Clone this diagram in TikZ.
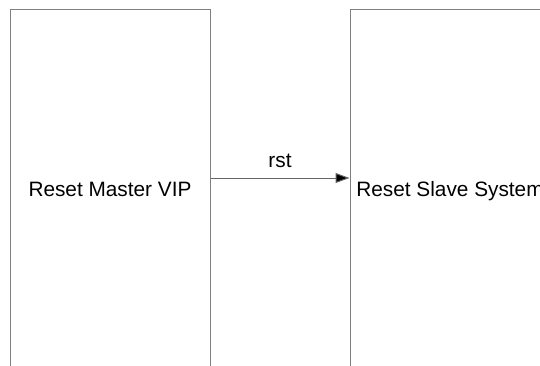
\documentclass[tikz,border=0pt]{standalone}
\usepackage{fontspec}
\setmainfont{Liberation Sans}
\usetikzlibrary{arrows.meta}
\tikzset{
  block/.style={draw=black!50, line width=1pt, minimum width=200pt, minimum height=358pt,
    inner sep=0pt, font=\fontsize{20.8}{24}\selectfont, text depth=0pt},
  signal/.style={draw=black!60, line width=1pt, -{Triangle[length=14pt,width=10pt,fill=black]}},
  siglabel/.style={font=\fontsize{20.8}{24}\selectfont, inner sep=0pt}
}
\begin{document}
\begin{tikzpicture}[x=1pt, y=-1pt]
  \useasboundingbox (0,0) rectangle (540,366);
  \clip (0,0) rectangle (540,366);
  \node[block] (master) at (110,189) {Reset Master VIP};
  \node[block] (slave) at (450,189) {Reset Slave System};
  \draw[signal] ([yshift=11pt]master.east) -- node[siglabel, above=10pt] (rstlabel) {rst} ([yshift=11pt]slave.west);
\end{tikzpicture}
\end{document}
